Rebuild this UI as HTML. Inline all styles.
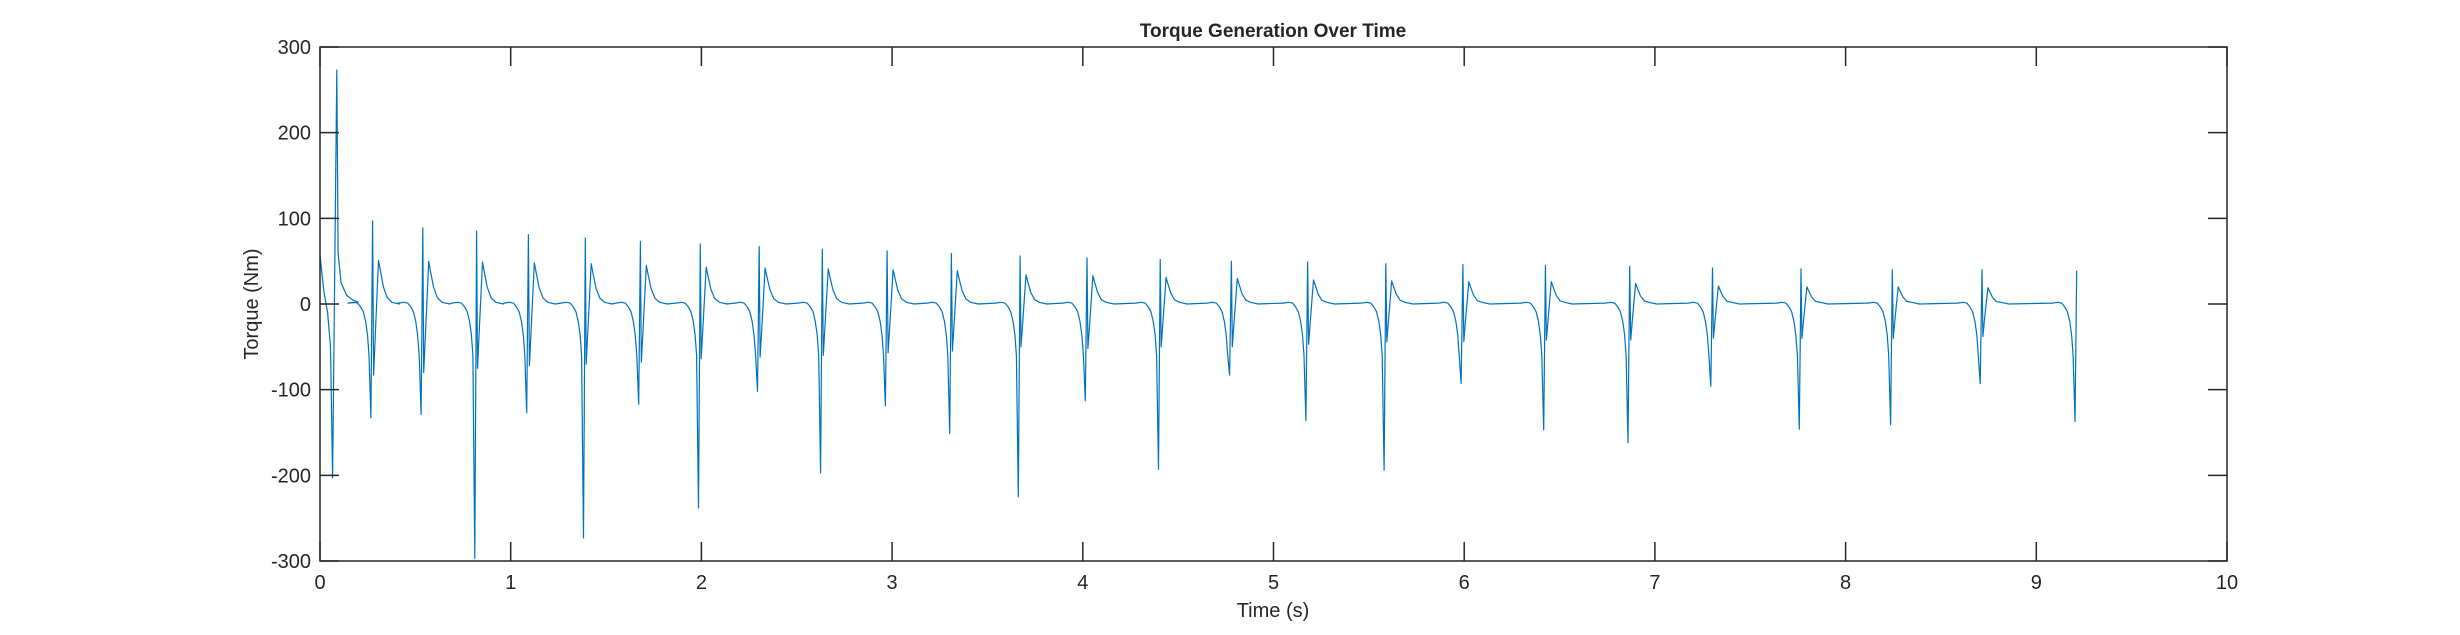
<!DOCTYPE html>
<html><head><meta charset="utf-8"><style>
html,body{margin:0;padding:0;background:#fff;}
svg text{font-family:"Liberation Sans",Helvetica,sans-serif;fill:#262626;}
</style></head><body>
<svg id="chart" width="2460" height="630" viewBox="0 0 2460 630" xmlns="http://www.w3.org/2000/svg">
<rect width="2460" height="630" fill="#fff"/>
<text x="1273" y="37" font-size="19" font-weight="bold" text-anchor="middle">Torque Generation Over Time</text>
<text x="1273" y="617" font-size="20" text-anchor="middle">Time (s)</text>
<text transform="translate(258,304) rotate(-90)" font-size="20" text-anchor="middle">Torque (Nm)</text>
<g id="plot"></g>
</svg>
<script>
const xTicks = [0,1,2,3,4,5,6,7,8,9,10];
const yTicks = [-300,-200,-100,0,100,200,300];
const startTimes = [0, 0.02, 0.04, 0.055, 0.066, 0.088, 0.095, 0.11, 0.14, 0.17, 0.2];
const startVals = [57, 15, -10, -50, -203, 273, 60, 25, 10, 5, 2];
const spikeTimes = [0.267,0.530,0.812,1.084,1.382,1.671,1.985,2.294,2.625,2.965,3.302,3.662,4.013,4.397,4.770,5.170,5.580,5.984,6.417,6.859,7.293,7.757,8.236,8.706,9.203];
const minVals = [-133,-129,-297,-127,-273,-117,-238,-102,-197,-119,-151,-225,-113,-193,-83,-136,-194,-93,-147,-162,-96,-146,-141,-93,-137];
const peakVals = [97,89,85,81,77,73,70,67,64,62,59,56,54,52,50,49,47,46,45,44,42,41,40,40,39];
const dipVals = [-83,-80,-75,-72,-70,-68,-64,-62,-60,-57,-55,-50,-52,-50,-50,-47,-44,-44,-42,-42,-40,-40,-40,-38,-38];
const bumpVals = [51,50,49,48,47,45,43,42,41,40,39,34,33,31,30,28,27,26,26,24,21,20,20,19,19];

const L=320,R=2227,T=47,B=561;
const xMin=0,xMax=10,yMin=-300,yMax=300;
function sx(t){return L+(t-xMin)/(xMax-xMin)*(R-L);}
function sy(v){return B-(v-yMin)/(yMax-yMin)*(B-T);}
const NS='http://www.w3.org/2000/svg';
const plot=document.getElementById('plot');
function mk(tag,attrs){const e=document.createElementNS(NS,tag);for(const k in attrs)e.setAttribute(k,attrs[k]);return e;}

const pts=[];
for(let i=0;i<startTimes.length;i++)pts.push([startTimes[i],startVals[i]]);
for(let k=0;k<spikeTimes.length;k++){
  const t=spikeTimes[k];
  const last=(k===spikeTimes.length-1);
  pts.push([t-0.12,1],[t-0.09,2],[t-0.07,1],[t-0.055,-3],[t-0.04,-9],[t-0.028,-20],[t-0.018,-36],[t-0.01,-60]);
  pts.push([t,minVals[k]]);
  pts.push([t+0.009,peakVals[k]]);
  if(last)break;
  pts.push([t+0.014,dipVals[k]],[t+0.022,dipVals[k]*0.5],[t+0.04,bumpVals[k]],[t+0.05,bumpVals[k]*0.75],[t+0.065,bumpVals[k]*0.4],[t+0.085,bumpVals[k]*0.15],[t+0.11,2],[t+0.15,0]);
}
let d='';
pts.forEach((p,i)=>{d+=(i?'L':'M')+sx(p[0]).toFixed(1)+','+sy(p[1]).toFixed(1);});
const line=mk('path',{d:d,fill:'none',stroke:'#0072BD','stroke-width':1.2,'stroke-linejoin':'round'});


plot.appendChild(line);

const box=mk('rect',{x:L,y:T,width:R-L,height:B-T,fill:'none',stroke:'#262626','stroke-width':1.5});


plot.appendChild(box);

const tl=19;
xTicks.forEach(v=>{
  const x=sx(v);
  const g=mk('path',{d:`M${x},${B}V${B-tl}M${x},${T}V${T+tl}`,stroke:'#262626','stroke-width':1.5});
  
  
  plot.appendChild(g);
  const tx=mk('text',{x:x,y:B+28,'font-size':20,'text-anchor':'middle'});
  
  
  tx.textContent=v;plot.appendChild(tx);
});
yTicks.forEach(v=>{
  const y=sy(v);
  const g=mk('path',{d:`M${L},${y}H${L+tl}M${R},${y}H${R-tl}`,stroke:'#262626','stroke-width':1.5});
  
  
  plot.appendChild(g);
  const tx=mk('text',{x:L-9,y:y+7,'font-size':20,'text-anchor':'end'});
  
  
  tx.textContent=v;plot.appendChild(tx);
});
</script>
</body></html>
